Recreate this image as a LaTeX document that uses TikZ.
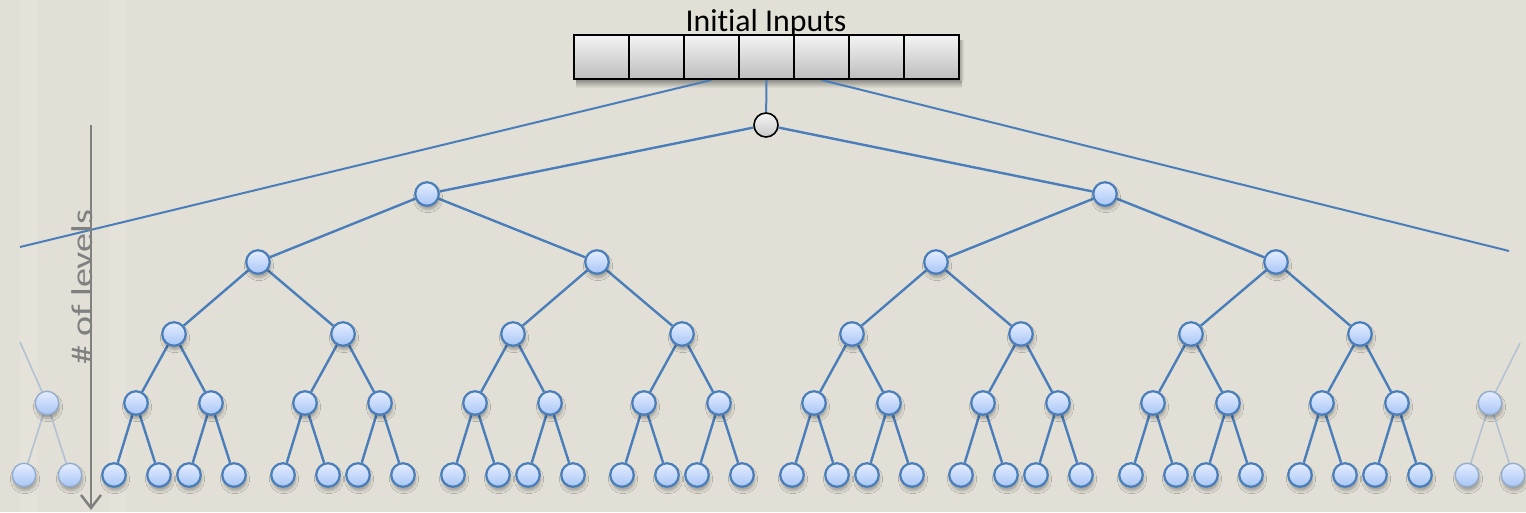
\documentclass[tikz,border=0pt]{standalone}
\usepackage{fontspec}
\setmainfont{Carlito}[Ligatures=NoCommon]
\usetikzlibrary{shadows.blur,arrows.meta}
\pgfdeclarelayer{links}
\pgfdeclarelayer{top}
\pgfsetlayers{main,links,top}

\definecolor{paper}{HTML}{E2E0D6}
\definecolor{paperlight}{HTML}{E4E2D9}
\definecolor{nodeblue}{HTML}{4A7EBB}
\definecolor{nodetop}{HTML}{E4EDFF}
\definecolor{nodebot}{HTML}{A8C6F6}
\definecolor{fadeline}{HTML}{B2C2D2}
\definecolor{fadeborder}{HTML}{93ACCB}
\definecolor{axisgray}{HTML}{808080}
\definecolor{celltop}{HTML}{F4F4F4}
\definecolor{cellbot}{HTML}{BDBDBD}

\tikzset{
  softshadow/.style={blur shadow={shadow xshift=1pt, shadow yshift=-4pt,
      shadow blur radius=3pt, shadow opacity=30}},
  treenode/.style={circle, minimum size=23.5pt, inner sep=0pt, draw=nodeblue,
      line width=2.2pt, top color=nodetop, bottom color=nodebot, softshadow},
  fadenode/.style={treenode, draw=fadeborder, line width=1.4pt},
  rootnode/.style={circle, minimum size=24pt, inner sep=0pt, draw=black,
      line width=1.6pt, top color=celltop, bottom color=cellbot!80!white},
  cell/.style={rectangle, minimum width=55pt, minimum height=44pt, inner sep=0pt,
      draw=black, line width=2pt, top color=celltop, bottom color=cellbot},
  branch/.style={draw=nodeblue, line width=2.4pt},
  fadebranch/.style={draw=fadeline, line width=1.6pt},
  feedline/.style={draw=nodeblue, line width=2pt},
  axisline/.style={draw=axisgray, line width=2.5pt},
}

\begin{document}
\begin{tikzpicture}[x=1pt, y=-1pt]
\useasboundingbox (0,0) rectangle (1526,512);

% paper background with faint vertical bands
\fill[paper] (0,0) rectangle (1526,512);
% first shadow instance, painted over right away
\node[treenode] (warmup) at (1455,45) {};
\fill[paper] (1415,5) rectangle (1495,90);
\fill[paperlight] (20,0) rectangle (37,512);
\fill[paperlight] (110,0) rectangle (126,512);
% soft shadow under the input array
\shade[top color=black!45!paper, bottom color=paper] (576,78) rectangle (962,88);
\shade[left color=black!30!paper, right color=paper] (959,40) rectangle (964,80);

\begin{pgfonlayer}{top}
% input array
\node[anchor=base, font=\fontsize{31.8}{38}\selectfont] (title) at (766,31) {Initial Inputs};
\foreach \k in {1,...,7} {
  \node[cell] (c\k) at ({601.5+55*(\k-1)},57) {};
}

% root
\node[rootnode] (t1) at (766,125) {};

% levels 1 to 3
\foreach \i/\x in {2/427, 3/1105} { \node[treenode] (t\i) at (\x,194) {}; }
\foreach \i/\x in {4/258, 5/597, 6/936, 7/1276} { \node[treenode] (t\i) at (\x,262) {}; }
\foreach \i/\x in {8/174, 9/343, 10/513, 11/682, 12/852, 13/1021, 14/1191, 15/1360} {
  \node[treenode] (t\i) at (\x,334) {};
}
% level 4
\foreach \i in {8,...,15} {
  \pgfmathtruncatemacro\lc{2*\i}
  \pgfmathtruncatemacro\rc{2*\i+1}
  \node[treenode] (t\lc) at ([shift={(-38,69)}]t\i.center) {};
  \node[treenode] (t\rc) at ([shift={(37,69)}]t\i.center) {};
}
% level 5 (leaves)
\foreach \i in {16,...,31} {
  \pgfmathtruncatemacro\lc{2*\i}
  \pgfmathtruncatemacro\rc{2*\i+1}
  \node[treenode] (t\lc) at ([shift={(-22,72)}]t\i.center) {};
  \node[treenode] (t\rc) at ([shift={(23,72)}]t\i.center) {};
}

% faded neighbouring subtrees at the edges
\node[fadenode] (fl) at (47,403) {};
\node[fadenode] (fl1) at (24,475) {};
\node[fadenode] (fl2) at (70,475) {};
\node[fadenode] (fr) at (1490,403) {};
\node[fadenode] (fr1) at (1467,475) {};
\node[fadenode] (fr2) at (1513,475) {};

% depth axis
\coordinate (axtop) at (91,125);
\coordinate (axbot) at (91,510);
\draw[axisline, -{Straight Barb[length=13pt, width=20pt]}] (axtop) -- (axbot);
\node[rotate=90, anchor=base, inner sep=0pt, text=axisgray,
      font=\fontsize{30}{36}\selectfont] (depth) at (92.5,287) {\scalebox{1.27}[1]{\# of levels}};
\end{pgfonlayer}

\coordinate (flup) at (20,342);
\coordinate (frup) at (1520,343);
\coordinate (feedL) at (20,247);
\coordinate (feedR) at (1509,251);

% tree branches, behind the nodes
\foreach \i in {1,...,31} {
  \pgfmathtruncatemacro\lc{2*\i}
  \pgfmathtruncatemacro\rc{2*\i+1}
  \begin{pgfonlayer}{links}
    \draw[branch] (t\i) -- (t\lc);
    \draw[branch] (t\i) -- (t\rc);
  \end{pgfonlayer}
}
\begin{pgfonlayer}{links}
  % feed lines from the array
  \draw[feedline] (c4.south) -- (t1);
  \draw[feedline] (c3.south) -- (feedL);
  \draw[feedline] (c5.south) -- (feedR);
  % faded subtrees
  \draw[fadebranch] (fl) -- (flup);
  \draw[fadebranch] (fl) -- (fl1);
  \draw[fadebranch] (fl) -- (fl2);
  \draw[fadebranch] (fr) -- (frup);
  \draw[fadebranch] (fr) -- (fr1);
  \draw[fadebranch] (fr) -- (fr2);
\end{pgfonlayer}
\end{tikzpicture}
\end{document}
